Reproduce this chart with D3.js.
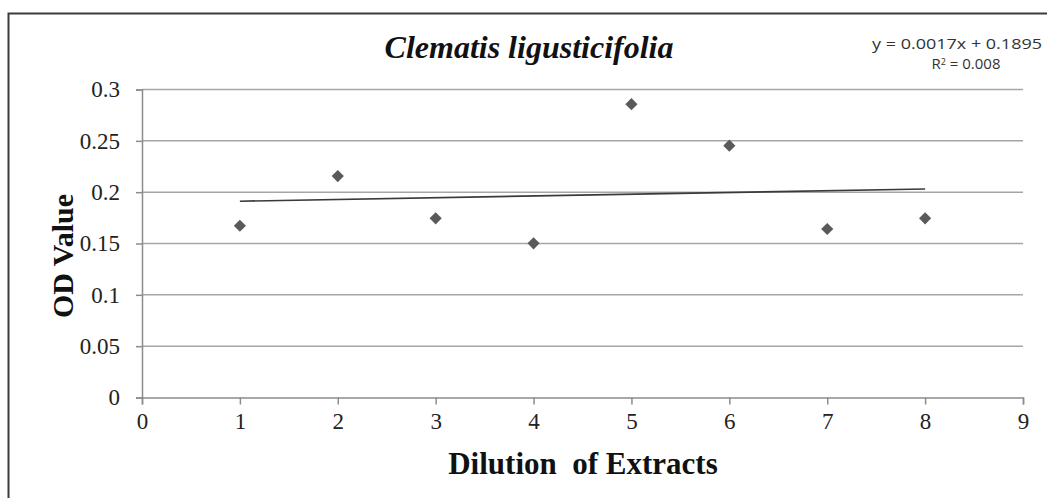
<!DOCTYPE html>
<html>
<head>
<meta charset="utf-8">
<script src="https://cdn.jsdelivr.net/npm/d3@7"></script>
<style>
html,body{margin:0;padding:0;background:#fff;overflow:hidden;}
svg{display:block;}
</style>
</head>
<body>
<svg id="chart" width="1047" height="498"></svg>
<script>
// ---- data ----
const dilution = [1, 2, 3, 4, 5, 6, 7, 8];
const odValue = [0.1673, 0.2157, 0.1745, 0.1502, 0.2857, 0.2453, 0.1641, 0.1745];
const xTicks = [0, 1, 2, 3, 4, 5, 6, 7, 8, 9];
const yTicks = [0, 0.05, 0.1, 0.15, 0.2, 0.25, 0.3];
const trendSlope = 0.0017;
const trendIntercept = 0.1895;
const trendRange = [1, 8];
const titleText = "Clematis ligusticifolia";
const xLabel = "Dilution  of Extracts";
const yLabel = "OD Value";
const eqLine1 = "y = 0.0017x + 0.1895";
const eqLine2 = "= 0.008";

(function () {
const svg = d3.select("#chart");
const mLeft = 142, mRight = 1023, mTop = 89.5, mBottom = 397.5;

svg.append("rect").attr("width", 1047).attr("height", 498).attr("fill", "#fff");
svg.append("rect").attr("x", 8.5).attr("y", 13.5).attr("width", 1200).attr("height", 700)
  .attr("fill", "none").attr("stroke", "#3c3c3c").attr("stroke-width", 2);

const x = d3.scaleLinear().domain([0, 9]).range([mLeft, mRight]);
const y = d3.scaleLinear().domain([0, 0.3]).range([mBottom, mTop]);

// gridlines
svg.append("g").selectAll("line").data(yTicks.filter(d => d > 0)).join("line")
  .attr("x1", mLeft).attr("x2", mRight)
  .attr("y1", d => y(d)).attr("y2", d => y(d))
  .attr("stroke", "#a6a6a6").attr("stroke-width", 1.5);

// y axis
const yAxis = svg.append("g").attr("transform", `translate(${mLeft},0)`)
  .call(d3.axisLeft(y).tickValues(yTicks).tickSize(6).tickPadding(16).tickFormat(d => String(d)));
yAxis.select(".domain").attr("stroke", "#8c8c8c").attr("stroke-width", 1.5);
yAxis.selectAll(".tick line").attr("stroke", "#8c8c8c").attr("stroke-width", 1.5);
yAxis.selectAll(".tick text").attr("font-family", "'Liberation Serif', serif").attr("font-size", 23).attr("fill", "#222");

// x axis
const xAxis = svg.append("g").attr("transform", `translate(0,${mBottom})`)
  .call(d3.axisBottom(x).tickValues(xTicks).tickSize(7).tickPadding(8).tickFormat(d3.format("d")));
xAxis.select(".domain").attr("stroke", "#8c8c8c").attr("stroke-width", 1.5);
xAxis.selectAll(".tick line").attr("stroke", "#8c8c8c").attr("stroke-width", 1.5);
xAxis.selectAll(".tick text").attr("font-family", "'Liberation Serif', serif").attr("font-size", 23).attr("fill", "#222");

// trend line
const line = d3.line().x(d => x(d)).y(d => y(trendSlope * d + trendIntercept));
svg.append("path").datum(trendRange).attr("d", line)
  .attr("fill", "none").attr("stroke", "#3a3a3a").attr("stroke-width", 1.6);

// markers
const sym = d3.symbol().type(d3.symbolSquare).size(74);
svg.append("g").selectAll("path").data(dilution).join("path")
  .attr("d", sym)
  .attr("transform", (d, i) => `translate(${x(d)},${y(odValue[i])}) rotate(45)`)
  .attr("fill", "#5a5a5a");

// title
svg.append("text").attr("x", 529).attr("y", 58).attr("text-anchor", "middle")
  .attr("font-family", "'Liberation Serif', serif").attr("font-weight", "bold").attr("font-style", "italic")
  .attr("font-size", 32).attr("fill", "#111").text(titleText);

// axis titles
svg.append("text").attr("x", 583).attr("y", 474).attr("text-anchor", "middle")
  .attr("font-family", "'Liberation Serif', serif").attr("font-weight", "bold")
  .attr("font-size", 31).attr("fill", "#111").style("white-space", "pre").text(xLabel);

svg.append("text").attr("transform", "translate(73,256) rotate(-90)").attr("text-anchor", "middle")
  .attr("font-family", "'Liberation Serif', serif").attr("font-weight", "bold")
  .attr("font-size", 30).attr("fill", "#111").text(yLabel);

// equation
svg.append("text").attr("x", 872).attr("y", 49)
  .attr("font-family", "'Open Sans', sans-serif").attr("font-size", 15).attr("fill", "#333")
  .attr("textLength", 170).attr("lengthAdjust", "spacingAndGlyphs").text(eqLine1);
const r2 = svg.append("text").attr("x", 966).attr("y", 69).attr("text-anchor", "middle")
  .attr("font-family", "'Open Sans', sans-serif").attr("font-size", 15).attr("fill", "#333");
r2.append("tspan").text("R");
r2.append("tspan").attr("dy", -4).attr("font-size", 9).text("2");
r2.append("tspan").attr("dy", 4).text(" " + eqLine2);
})();
</script>
</body>
</html>
